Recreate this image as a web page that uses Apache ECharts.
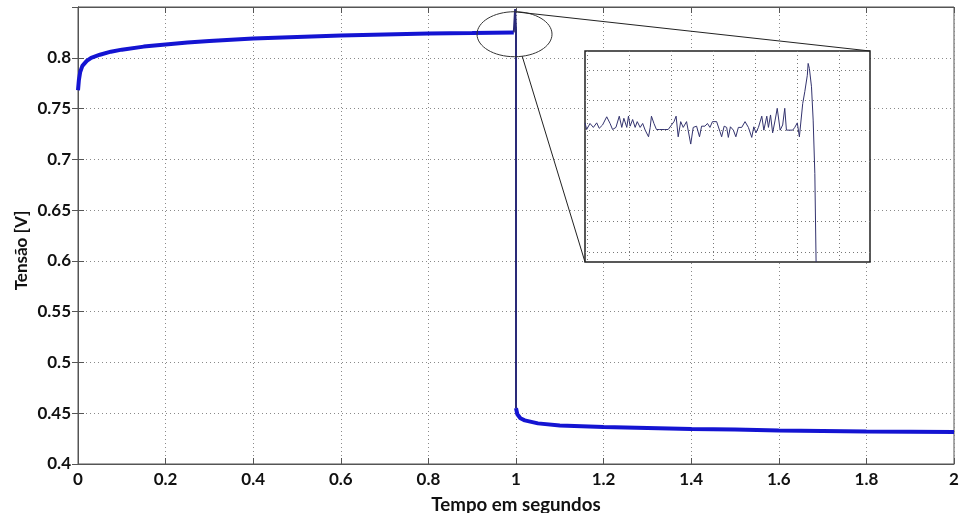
<!DOCTYPE html>
<html><head><meta charset="utf-8">
<script src="https://cdn.jsdelivr.net/npm/echarts@6/dist/echarts.min.js"></script>
<style>html,body{margin:0;padding:0;background:#fff}#c{width:959px;height:513px}</style>
</head><body><div id="c"></div><script>
// ---- data ----
const riseT = [0, 0.002, 0.005, 0.01, 0.02, 0.03, 0.05, 0.075, 0.1, 0.15, 0.2, 0.25, 0.3, 0.4, 0.5, 0.6, 0.7, 0.8, 0.9, 0.995];
const riseV = [0.768, 0.778, 0.786, 0.792, 0.797, 0.800, 0.803, 0.806, 0.808, 0.811, 0.813, 0.815, 0.8165, 0.819, 0.8205, 0.822, 0.823, 0.824, 0.8245, 0.825];
const dropT = [0.995, 0.998, 1.0, 1.0];
const dropV = [0.825, 0.848, 0.828, 0.455];
const decayT = [1.0, 1.003, 1.01, 1.02, 1.05, 1.1, 1.2, 1.3, 1.4, 1.5, 1.6, 1.7, 1.8, 1.9, 2.0];
const decayV = [0.455, 0.449, 0.445, 0.443, 0.440, 0.438, 0.4365, 0.4355, 0.4345, 0.434, 0.433, 0.4325, 0.432, 0.4318, 0.4315];
// inset (zoomed detail), in the inset's own grid units
const insetX = [0,0.04,0.12,0.20,0.28,0.34,0.42,0.52,0.60,0.66,0.74,0.82,0.88,0.93,1.00,1.04,1.08,1.14,1.20,1.25,1.32,1.38,1.44,1.52,1.56,1.59,1.65,1.71,1.79,1.91,1.99,2.07,2.13,2.18,2.23,2.29,2.35,2.43,2.53,2.59,2.67,2.74,2.79,2.87,2.93,2.99,3.05,3.15,3.23,3.27,3.33,3.39,3.43,3.48,3.55,3.61,3.67,3.75,3.83,3.91,3.99,4.04,4.09,4.15,4.23,4.28,4.35,4.39,4.44,4.49,4.55,4.60,4.67,4.73,4.78,4.82,4.89,4.97,5.02,5.08,5.13,5.16,5.21,5.26,5.32,5.34,5.37,5.42,5.46,5.50,5.53];
const insetY = [4.59,4.37,4.57,4.44,4.59,4.41,4.52,4.79,4.57,4.37,4.44,4.81,4.44,4.74,4.44,4.81,4.48,4.70,4.44,4.63,4.44,4.57,4.35,4.13,4.44,4.81,4.57,4.37,4.37,4.37,4.37,4.52,4.63,4.81,4.13,4.63,4.44,4.63,3.89,4.44,4.48,4.13,4.48,4.48,4.57,4.44,4.63,4.63,4.30,4.13,4.48,4.44,4.11,4.46,4.35,4.13,4.44,4.44,4.63,4.44,4.11,4.46,4.26,4.44,4.81,4.35,4.81,4.44,4.85,4.26,4.68,5.07,4.35,4.52,5.07,4.35,4.35,4.35,4.44,4.59,4.13,4.13,5.23,5.62,6.16,6.55,6.38,5.78,4.68,2.92,0];
const xName = 'Tempo em segundos';
const yName = 'Tensão [V]';

const zip = (a, b) => a.map((v, i) => [v, b[i]]);
const chart = echarts.init(document.getElementById('c'), null, {renderer: 'canvas'});
const lblFont = {fontFamily: 'Lato', fontWeight: 'bold', fontSize: 17, color: '#111'};
const dotted = {show: true, lineStyle: {type: [1, 3], color: '#8a8a8a', width: 1}};
const insetDotted = {show: true, lineStyle: {type: [1, 3], color: '#777', width: 1}};
const axLine = {show: true, lineStyle: {color: '#555', width: 1}};
const none = {show: false};
const bare = (g, extra) => Object.assign({type: 'value', gridIndex: g, z: 21,
  axisLine: none, axisTick: none, axisLabel: none, splitLine: none}, extra);

chart.setOption({
  animation: false,
  backgroundColor: '#fff',
  grid: [
    {left: 78, right: 5, top: 7, bottom: 49, show: true, borderColor: '#555', borderWidth: 1, outerBoundsMode: 'none'},
    {left: 585, top: 51, width: 285, height: 211, show: true, backgroundColor: '#fff', borderColor: '#222', borderWidth: 1.5, z: 20, outerBoundsMode: 'none'},
    {left: 585, top: 70, width: 285, height: 182, show: false, z: 21, outerBoundsMode: 'none'},
    {left: 587, top: 51, width: 252, height: 211, show: false, z: 21, outerBoundsMode: 'none'}
  ],
  xAxis: [
    {type: 'value', gridIndex: 0, min: 0, max: 2, interval: 0.2, position: 'bottom',
     axisLine: axLine, axisTick: {show: true, inside: true, length: 6, lineStyle: {color: '#555'}},
     axisLabel: Object.assign({margin: 7}, lblFont), splitLine: dotted,
     name: xName, nameLocation: 'middle', nameGap: 31, nameMoveOverlap: false,
     nameTextStyle: {fontFamily: 'Lato', fontWeight: 'bold', fontSize: 18.7, color: '#111'}},
    {type: 'value', gridIndex: 0, min: 0, max: 2, interval: 0.2, position: 'top',
     axisLine: axLine, axisTick: {show: true, inside: true, length: 6, lineStyle: {color: '#555'}},
     axisLabel: none, splitLine: none},
    bare(1, {min: 0, max: 6.82}),
    bare(2, {min: 0, max: 1}),
    bare(3, {min: 0, max: 6, interval: 1, splitLine: insetDotted})
  ],
  yAxis: [
    {type: 'value', gridIndex: 0, min: 0.4, max: 0.85, interval: 0.05, position: 'left',
     axisLine: axLine, axisTick: {show: true, inside: true, length: 6, lineStyle: {color: '#555'}},
     axisLabel: Object.assign({margin: 7, showMaxLabel: false}, lblFont), splitLine: dotted,
     name: yName, nameLocation: 'middle', nameGap: 48, nameMoveOverlap: false,
     nameTextStyle: {fontFamily: 'Lato', fontWeight: 'bold', fontSize: 17, color: '#111', padding: [0, 30, 0, 0]}},
    {type: 'value', gridIndex: 0, min: 0.4, max: 0.85, interval: 0.05, position: 'right',
     axisLine: axLine, axisTick: {show: true, inside: true, length: 6, lineStyle: {color: '#555'}},
     axisLabel: none, splitLine: none},
    bare(1, {min: 0, max: 6.96}),
    bare(2, {min: 0, max: 6, interval: 1, splitLine: insetDotted}),
    bare(3, {min: 0, max: 1})
  ],
  series: [
    {type: 'line', xAxisIndex: 0, yAxisIndex: 0, data: zip(riseT, riseV), showSymbol: false,
     lineStyle: {color: '#1414d2', width: 4}, z: 3},
    {type: 'line', xAxisIndex: 0, yAxisIndex: 0, data: zip(dropT, dropV), showSymbol: false,
     lineStyle: {color: '#2a2a78', width: 2}, z: 4},
    {type: 'line', xAxisIndex: 0, yAxisIndex: 0, data: zip(decayT, decayV), showSymbol: false,
     lineStyle: {color: '#1414d2', width: 4}, z: 3},
    {type: 'line', xAxisIndex: 2, yAxisIndex: 2, data: zip(insetX, insetY), showSymbol: false,
     lineStyle: {color: '#33336e', width: 1}, z: 22}
  ]
});

// zoom annotation: ellipse around the transition and lines to the inset corners
const c = chart.convertToPixel({gridIndex: 0}, [0.9966, 0.8232]);
const tr = chart.convertToPixel({gridIndex: 1}, [6.82, 6.96]);
const bl = chart.convertToPixel({gridIndex: 1}, [0, 0]);
const rx = 37.5, ry = 22.5;
chart.setOption({
  graphic: [
    {type: 'ellipse', shape: {cx: c[0], cy: c[1], rx: rx, ry: ry}, style: {fill: null, stroke: '#333', lineWidth: 1}, z: 30},
    {type: 'line', shape: {x1: c[0] + 2.7, y1: c[1] - ry + 0.3, x2: tr[0], y2: tr[1]}, style: {stroke: '#222', lineWidth: 1}, z: 30},
    {type: 'line', shape: {x1: c[0] + 7.7, y1: c[1] + ry - 0.5, x2: bl[0], y2: bl[1]}, style: {stroke: '#222', lineWidth: 1}, z: 30}
  ]
});
</script></body></html>
